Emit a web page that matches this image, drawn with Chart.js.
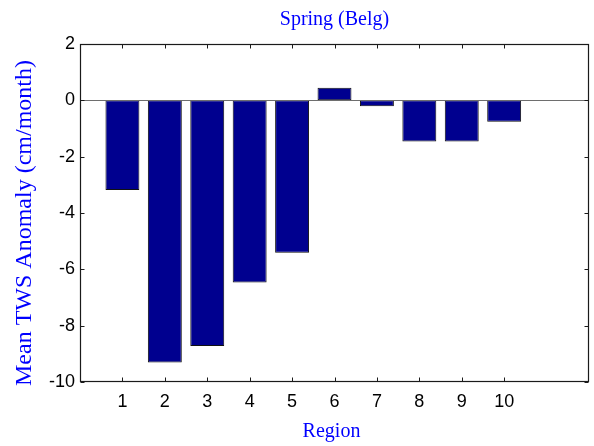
<!DOCTYPE html>
<html>
<head>
<meta charset="utf-8">
<script src="https://cdn.jsdelivr.net/npm/chart.js@4/dist/chart.umd.min.js"></script>
<style>
  html, body { margin: 0; padding: 0; background: #ffffff; }
  #wrap { width: 594px; height: 446px; }
</style>
</head>
<body>
<div id="wrap"><canvas id="c" width="594" height="446"></canvas></div>
<script>
// Region categories and their mean TWS anomaly (cm/month)
const regions = ['1', '2', '3', '4', '5', '6', '7', '8', '9', '10'];
const anomaly = [-3.18, -9.31, -8.72, -6.47, -5.41, 0.45, -0.21, -1.46, -1.46, -0.76];
const yTicks = [-10, -8, -6, -4, -2, 0, 2];
const yTickLabels = ['-10', '-8', '-6', '-4', '-2', '0', '2'];

const titleText = 'Spring (Belg)';
const xTitleText = 'Region';
const yTitleText = 'Mean TWS Anomaly (cm/month)';

const AXIS_COLOR = '#1a1a1a';
const LABEL_BLUE = '#0000ff';
const SERIF = '"Liberation Serif", "Times New Roman", serif';
const SANS = '"Liberation Sans", Arial, sans-serif';

// Box frame, inward tick marks on all four sides, and the zero baseline
const framePlugin = {
  id: 'frame',
  afterDatasetsDraw(chart) {
    const { ctx, chartArea: a, scales } = chart;
    const x = scales.x, y = scales.y;
    const tick = 4;
    ctx.save();
    // baseline at zero
    const y0 = Math.round(y.getPixelForValue(0)) + 0.5;
    ctx.strokeStyle = '#6e6e6e';
    ctx.lineWidth = 1;
    ctx.beginPath();
    ctx.moveTo(a.left, y0);
    ctx.lineTo(a.right, y0);
    ctx.stroke();

    ctx.strokeStyle = AXIS_COLOR;
    ctx.lineWidth = 1.2;
    const L = Math.round(a.left) + 0.5, R = Math.round(a.right) - 0.5;
    const T = Math.round(a.top) + 0.5, B = Math.round(a.bottom) - 0.5;
    ctx.strokeRect(L, T, R - L, B - T);
    ctx.lineWidth = 1;
    ctx.beginPath();
    x.ticks.forEach(t => {
      const px = Math.round(x.getPixelForValue(t.value)) + 0.5;
      ctx.moveTo(px, B); ctx.lineTo(px, B - tick);
      ctx.moveTo(px, T); ctx.lineTo(px, T + tick);
    });
    y.ticks.forEach(t => {
      const py = Math.round(y.getPixelForValue(t.value)) + 0.5;
      ctx.moveTo(L, py); ctx.lineTo(L + tick, py);
      ctx.moveTo(R, py); ctx.lineTo(R - tick, py);
    });
    ctx.stroke();
    ctx.restore();
  },
  afterDraw(chart) {
    const { ctx, chartArea: a } = chart;
    const cx = (a.left + a.right) / 2;
    ctx.save();
    ctx.fillStyle = LABEL_BLUE;
    ctx.textAlign = 'center';
    ctx.textBaseline = 'alphabetic';
    ctx.font = '20px ' + SERIF;
    ctx.fillText(titleText, cx, 25);
    ctx.fillText(xTitleText, cx - 3, 437);
    ctx.translate(31, 223);
    ctx.rotate(-Math.PI / 2);
    ctx.font = '24px ' + SERIF;
    ctx.fillText(yTitleText, 0, 0);
    ctx.restore();
  }
};

new Chart(document.getElementById('c'), {
  type: 'bar',
  data: {
    datasets: [{
      data: regions.map((r, i) => ({ x: i + 1, y: anomaly[i] })),
      backgroundColor: '#00008f',
      borderColor: '#111111',
      borderWidth: 1,
      borderSkipped: false,
      barPercentage: 0.8,
      categoryPercentage: 1.0
    }]
  },
  options: {
    responsive: false,
    animation: false,
    layout: { padding: { top: 44, right: 5, left: 0, bottom: 0 } },
    plugins: {
      legend: { display: false },
      title: { display: false },
      tooltip: { enabled: false }
    },
    scales: {
      x: {
        type: 'linear',
        min: 0,
        max: 12,
        offset: false,
        grid: { display: false, drawTicks: false },
        border: { display: false },
        afterBuildTicks(scale) {
          scale.ticks = regions.map((r, i) => ({ value: i + 1 }));
        },
        afterFit(scale) { scale.height = 64; },
        ticks: {
          autoSkip: false,
          maxRotation: 0,
          padding: 9,
          color: '#000000',
          font: { family: SANS, size: 18 },
          callback: (v) => regions[v - 1]
        }
      },
      y: {
        min: -10,
        max: 2,
        grid: { display: false, drawTicks: false },
        border: { display: false },
        afterBuildTicks(scale) {
          scale.ticks = yTicks.map(v => ({ value: v }));
        },
        afterFit(scale) { scale.width = 80; },
        ticks: {
          padding: 5,
          color: '#000000',
          font: { family: SANS, size: 18 },
          callback: (v) => yTickLabels[yTicks.indexOf(v)]
        }
      }
    }
  },
  plugins: [framePlugin]
});
</script>
</body>
</html>
